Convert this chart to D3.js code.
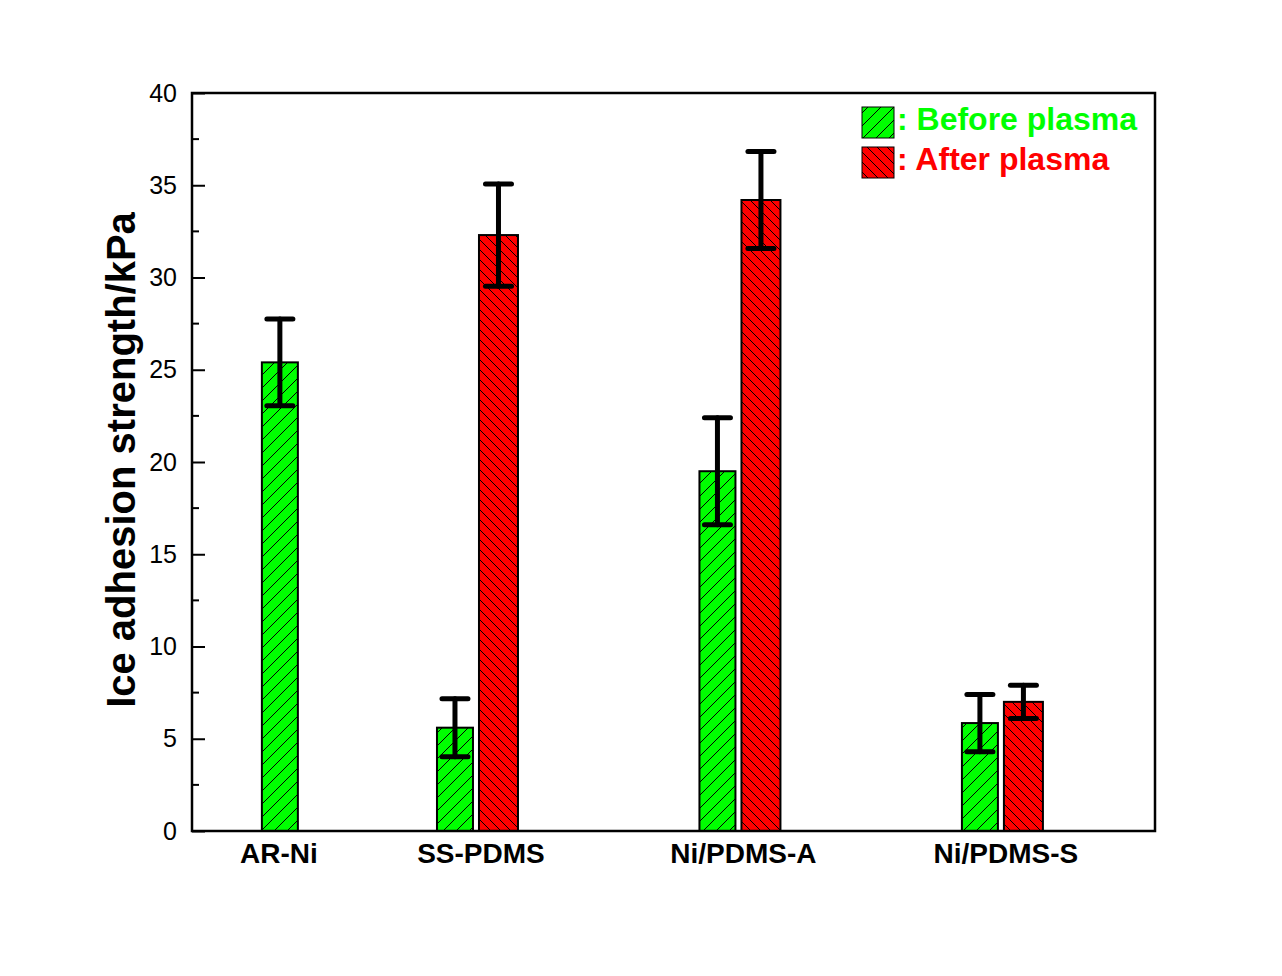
<!DOCTYPE html>
<html>
<head>
<meta charset="utf-8">
<script src="https://cdn.jsdelivr.net/npm/d3@7"></script>
<style>
  html, body { margin: 0; padding: 0; background: #ffffff; }
  svg { display: block; }
  text { font-family: "Liberation Sans", Arial, Helvetica, sans-serif; }
</style>
</head>
<body>
<svg id="chart" width="1282" height="976"></svg>
<script>
// ---- data ----
const categories = ["AR-Ni", "SS-PDMS", "Ni/PDMS-A", "Ni/PDMS-S"];
const categoryX = [1.23, 2, 3, 4];
const beforeValues = [25.4, 5.6, 19.5, 5.85];
const beforeErrors = [2.35, 1.57, 2.9, 1.55];
const afterValues = [null, 32.3, 34.2, 7.0];
const afterErrors = [null, 2.77, 2.63, 0.9];
const yTicks = [0, 5, 10, 15, 20, 25, 30, 35, 40];
const seriesNames = ["Before plasma", "After plasma"];
const yTitle = "Ice adhesion strength/kPa";

// ---- layout ----
const svg = d3.select("#chart");
const L = 192, R = 1155, T = 93, B = 831;
const x = d3.scaleLinear().domain([0.899, 4.568]).range([L, R]);
const y = d3.scaleLinear().domain([0, 40]).range([B, T]);
const green = "#00ff00", red = "#ff0000";

// hatch patterns
const defs = svg.append("defs");
function hatch(id, color, p, dir) {
  const pat = defs.append("pattern").attr("id", id)
    .attr("patternUnits", "userSpaceOnUse").attr("width", p).attr("height", p);
  pat.append("rect").attr("width", p).attr("height", p).attr("fill", color);
  const d = dir === "/"
    ? `M0,${p} L${p},0 M${-p/2},${p/2} L${p/2},${-p/2} M${p/2},${p*1.5} L${p*1.5},${p/2}`
    : `M0,0 L${p},${p} M${-p/2},${p/2} L${p/2},${p*1.5} M${p/2},${-p/2} L${p*1.5},${p/2}`;
  pat.append("path").attr("d", d).attr("stroke", "#000").attr("stroke-width", 1).attr("fill", "none");
}
hatch("hG", green, 13, "/");
hatch("hR", red, 10, "\\");

const data = categories.map((c, i) => ({
  c, pos: categoryX[i], b: beforeValues[i], be: beforeErrors[i],
  a: afterValues[i], ae: afterErrors[i]
}));

// bars
const gW = 36, rW = 39;
const bars = [];
data.forEach(d => {
  const cx = x(d.pos);
  if (d.a == null) {
    bars.push({ x0: cx - gW / 2 + 1, w: gW, v: d.b, e: d.be, fill: "url(#hG)" });
  } else {
    bars.push({ x0: cx - 44, w: gW, v: d.b, e: d.be, fill: "url(#hG)" });
    bars.push({ x0: cx - 2, w: rW, v: d.a, e: d.ae, fill: "url(#hR)" });
  }
});

svg.append("g").selectAll("rect").data(bars).join("rect")
  .attr("x", d => d.x0).attr("y", d => y(d.v))
  .attr("width", d => d.w).attr("height", d => y(0) - y(d.v))
  .attr("fill", d => d.fill).attr("stroke", "#000").attr("stroke-width", 2);

// error bars
const eg = svg.append("g").attr("stroke", "#000").attr("stroke-width", 5).attr("stroke-linecap", "round");
bars.forEach(d => {
  const cx = d.x0 + d.w / 2;
  eg.append("line").attr("x1", cx).attr("x2", cx).attr("y1", y(d.v + d.e)).attr("y2", y(d.v - d.e));
  eg.append("line").attr("x1", cx - 13).attr("x2", cx + 13).attr("y1", y(d.v + d.e)).attr("y2", y(d.v + d.e));
  eg.append("line").attr("x1", cx - 13).attr("x2", cx + 13).attr("y1", y(d.v - d.e)).attr("y2", y(d.v - d.e));
});

// frame
svg.append("rect").attr("x", L).attr("y", T).attr("width", R - L).attr("height", B - T)
  .attr("fill", "none").attr("stroke", "#000").attr("stroke-width", 2.5);

// y axis (ticks inward)
const yAxis = d3.axisLeft(y).tickValues(yTicks).tickSize(-13).tickPadding(15).tickFormat(d3.format("d"));
const ya = svg.append("g").attr("transform", `translate(${L},0)`).call(yAxis);
ya.select(".domain").remove();
ya.selectAll(".tick line").attr("stroke-width", 2);
ya.selectAll(".tick text").attr("font-size", 25).attr("fill", "#000")
  .attr("font-family", '"Liberation Sans", Arial, sans-serif');
// minor ticks
const minor = d3.range(2.5, 40, 5);
svg.append("g").selectAll("line").data(minor).join("line")
  .attr("x1", L).attr("x2", L + 7).attr("y1", d => y(d)).attr("y2", d => y(d))
  .attr("stroke", "#000").attr("stroke-width", 2);

// x category labels
svg.append("g").selectAll("text").data(data).join("text")
  .attr("x", d => x(d.pos)).attr("y", 863)
  .attr("text-anchor", "middle").attr("font-size", 28).attr("font-weight", "bold")
  .text(d => d.c);

// y title
svg.append("text")
  .attr("transform", `translate(135,${(T + B) / 2 - 2}) rotate(-90)`)
  .attr("text-anchor", "middle").attr("font-size", 40).attr("font-weight", "bold")
  .text(yTitle);

// legend
const leg = [
  { name: seriesNames[0], fill: "url(#hG)", color: green, y0: 107 },
  { name: seriesNames[1], fill: "url(#hR)", color: red, y0: 147 }
];
const lg = svg.append("g");
leg.forEach(d => {
  lg.append("rect").attr("x", 862).attr("y", d.y0).attr("width", 32).attr("height", 31)
    .attr("fill", d.fill).attr("stroke", "#000").attr("stroke-width", 1);
  lg.append("text").attr("x", 897).attr("y", d.y0 + 23)
    .attr("font-size", 32).attr("font-weight", "bold").attr("fill", d.color)
    .text(": " + d.name);
});
</script>
</body>
</html>
